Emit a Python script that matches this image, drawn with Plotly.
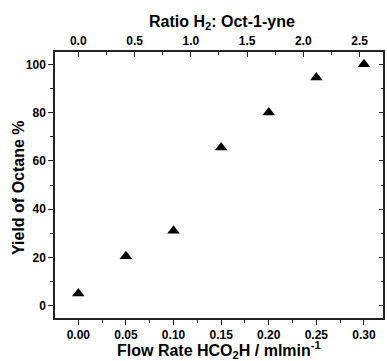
import plotly.graph_objects as go

flow_rate = [0.00, 0.05, 0.10, 0.15, 0.20, 0.25, 0.30]
yield_octane = [5, 20.5, 31, 65.5, 80, 94.5, 100]
ratio_ticks = [0.0, 0.5, 1.0, 1.5, 2.0, 2.5]
flow_ticks = [0.00, 0.05, 0.10, 0.15, 0.20, 0.25, 0.30]
yield_ticks = [0, 20, 40, 60, 80, 100]

FONT = "Liberation Sans, Arial, sans-serif"
LINE = "#222222"

fig = go.Figure()
fig.add_trace(go.Scatter(
    x=flow_rate, y=yield_octane, mode="markers",
    marker=dict(symbol="triangle-up", size=11, color="black"),
    showlegend=False, hoverinfo="x+y"))
# invisible traces to activate the secondary axes
fig.add_trace(go.Scatter(x=ratio_ticks, y=[None]*len(ratio_ticks), xaxis="x2", yaxis="y",
                         mode="markers", showlegend=False, hoverinfo="skip"))
fig.add_trace(go.Scatter(x=flow_ticks, y=[None]*len(flow_ticks), xaxis="x", yaxis="y2",
                         mode="markers", showlegend=False, hoverinfo="skip"))

tickfont = dict(family=FONT, size=12, color="black")
titlefont = dict(family=FONT, size=16, color="black")

PH = 361 - 52 - 43  # plot height in px
PW = 387 - 55 - 4

fig.update_layout(
    width=387, height=361,
    margin=dict(l=55, r=4, t=52, b=43),
    paper_bgcolor="white", plot_bgcolor="white",
    font=dict(family=FONT, color="black"),
    xaxis=dict(
        range=[-0.0245, 0.32], tickvals=flow_ticks,
        ticktext=["<b>%.2f</b>" % v for v in flow_ticks],
        ticks="outside", ticklen=5, tickwidth=1.2, tickcolor=LINE,
        minor=dict(tickvals=[0.025, 0.075, 0.125, 0.175, 0.225, 0.275], ticks="outside",
                   ticklen=3, tickcolor=LINE, tickwidth=1),
        showline=True, linecolor=LINE, linewidth=1.5, automargin=False,
        showgrid=False, zeroline=False, tickfont=tickfont,
    ),
    xaxis2=dict(
        overlaying="x", side="top", anchor="y",
        range=[-0.207, 2.708], tickvals=ratio_ticks,
        ticktext=["<b>%.1f</b>" % v for v in ratio_ticks],
        ticks="inside", ticklen=5, tickwidth=1.2, tickcolor=LINE,
        minor=dict(tickvals=[0.25, 0.75, 1.25, 1.75, 2.25], ticks="inside",
                   ticklen=3, tickcolor=LINE, tickwidth=1),
        showline=True, linecolor=LINE, linewidth=1.5, automargin=False,
        showgrid=False, zeroline=False, tickfont=tickfont,
    ),
    yaxis=dict(
        range=[-5.1, 105.1], tickvals=yield_ticks,
        ticktext=["<b>%d</b>" % v for v in yield_ticks],
        ticks="outside", ticklen=5, tickwidth=1.2, tickcolor=LINE,
        minor=dict(tickvals=[10, 30, 50, 70, 90], ticks="outside",
                   ticklen=3, tickcolor=LINE, tickwidth=1),
        showline=True, linecolor=LINE, linewidth=1.5, automargin=False,
        showgrid=False, zeroline=False, tickfont=tickfont,
    ),
    yaxis2=dict(
        overlaying="y", side="right", anchor="x",
        range=[-5.1, 105.1], tickvals=yield_ticks, showticklabels=False,
        ticks="inside", ticklen=4, tickwidth=1.2, tickcolor=LINE,
        minor=dict(tickvals=[10, 30, 50, 70, 90], ticks="inside",
                   ticklen=2, tickcolor=LINE, tickwidth=1),
        showline=True, linecolor=LINE, linewidth=1.5, automargin=False,
        showgrid=False, zeroline=False,
    ),
    annotations=[
        dict(text="<b>Flow Rate HCO<sub>2</sub>H / mlmin<sup>-1</sup></b>",
             xref="paper", yref="paper", x=(219 - 55) / PW, y=-(350 - 318) / PH,
             xanchor="center", yanchor="middle", showarrow=False, font=titlefont),
        dict(text="<b>Ratio H<sub>2</sub>: Oct-1-yne</b>",
             xref="paper", yref="paper", x=(222 - 55) / PW, y=1 + (52 - 23) / PH,
             xanchor="center", yanchor="middle", showarrow=False, font=titlefont),
        dict(text="<b>Yield of Octane %</b>", textangle=-90,
             xref="paper", yref="paper", x=-(55 - 18) / PW, y=(318 - 188) / PH,
             xanchor="center", yanchor="middle", showarrow=False, font=titlefont),
    ],
)

fig.write_html("out.html", config={"displayModeBar": False},
               post_script="document.body.style.margin='0';document.body.style.overflow='hidden';")
